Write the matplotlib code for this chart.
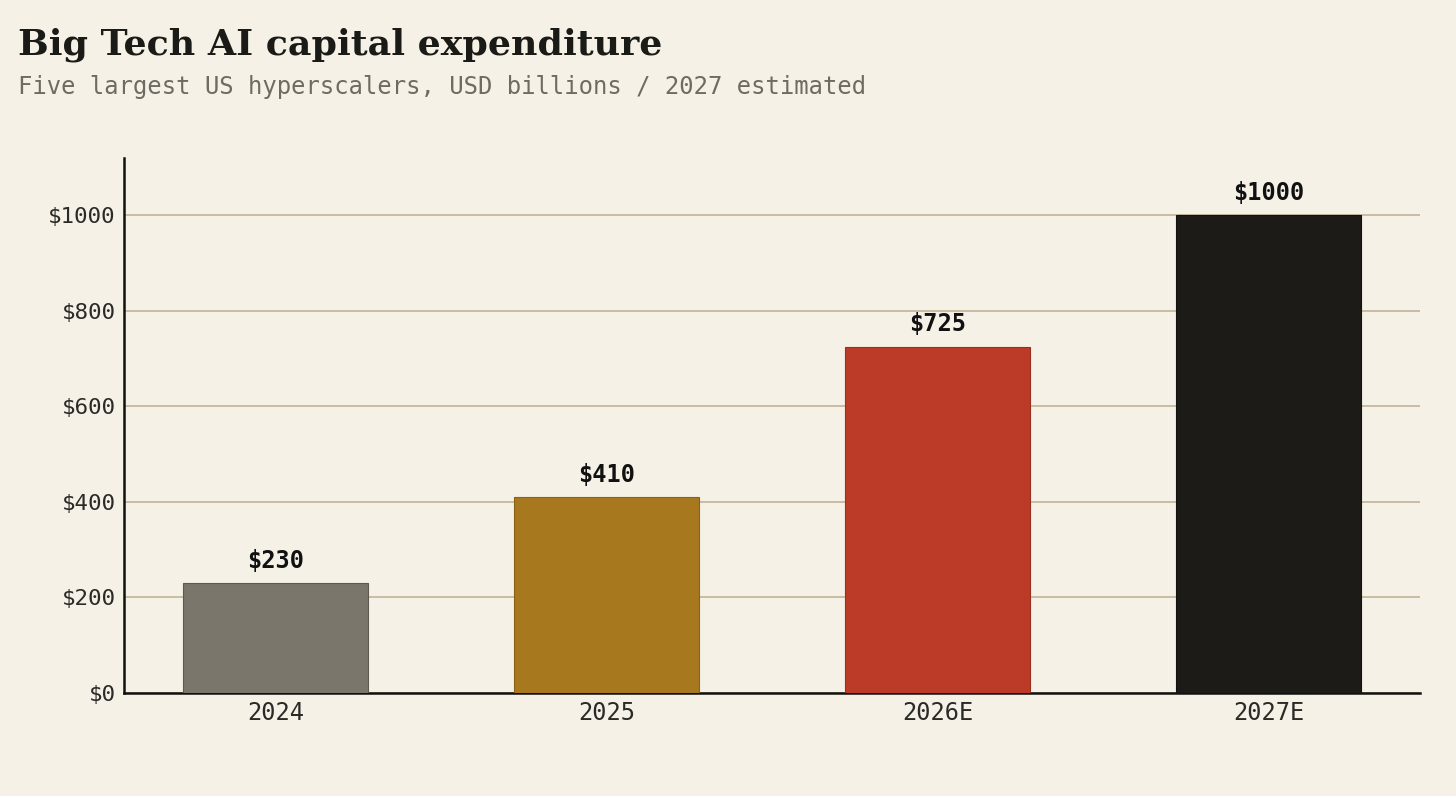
import matplotlib
matplotlib.use('Agg')
import matplotlib.pyplot as plt

years = ['2024', '2025', '2026E', '2027E']
capex = [230, 410, 725, 1000]
bar_colors = ['#7b766b', '#a8781f', '#bc3a28', '#1c1b17']
edge_colors = ['#5e594f', '#8a6216', '#9a2e1e', '#111110']

BG = '#f5f1e6'

fig = plt.figure(figsize=(14.56, 7.96), dpi=100, facecolor=BG)
ax = fig.add_axes([0.0852, 0.1294, 0.8901, 0.6721], facecolor=BG)

x = range(len(years))
bars = ax.bar(x, capex, width=0.558, color=bar_colors, edgecolor=edge_colors, linewidth=0.8, zorder=3)

for rect, val in zip(bars, capex):
	ax.annotate(f'${val}', (rect.get_x() + rect.get_width() / 2, val),
		xytext=(0, 7.5), textcoords='offset points', ha='center', va='bottom',
		family='DejaVu Sans Mono', fontweight='bold', fontsize=17, color='#111111')

ax.set_ylim(0, 1120)
ax.set_yticks([0, 200, 400, 600, 800, 1000])
ax.set_yticklabels([f'${v}' for v in [0, 200, 400, 600, 800, 1000]],
	family='DejaVu Sans Mono', fontsize=16.2, color='#2a2a26')
ax.set_xticks(list(x))
ax.set_xticklabels(years, family='DejaVu Sans Mono', fontsize=17, color='#2a2a26')
ax.tick_params(axis='both', length=0)
ax.tick_params(axis='y', pad=6)
ax.tick_params(axis='x', pad=5.5)

ax.yaxis.grid(True, color='#c5b89c', linewidth=1.3, zorder=0)
ax.set_axisbelow(True)

for side in ['top', 'right']:
	ax.spines[side].set_visible(False)
for side in ['left', 'bottom']:
	ax.spines[side].set_color('#111111')
	ax.spines[side].set_linewidth(1.8)

fig.text(0.0124, 0.932, 'Big Tech AI capital expenditure', family='DejaVu Serif',
	fontweight='bold', fontsize=26.2, color='#1a1a17', va='baseline')
fig.text(0.0124, 0.882, 'Five largest US hyperscalers, USD billions / 2027 estimated',
	family='DejaVu Sans Mono', fontsize=17.2, color='#6e6b62', va='baseline')

fig.savefig('out.png', dpi=100, facecolor=BG)
